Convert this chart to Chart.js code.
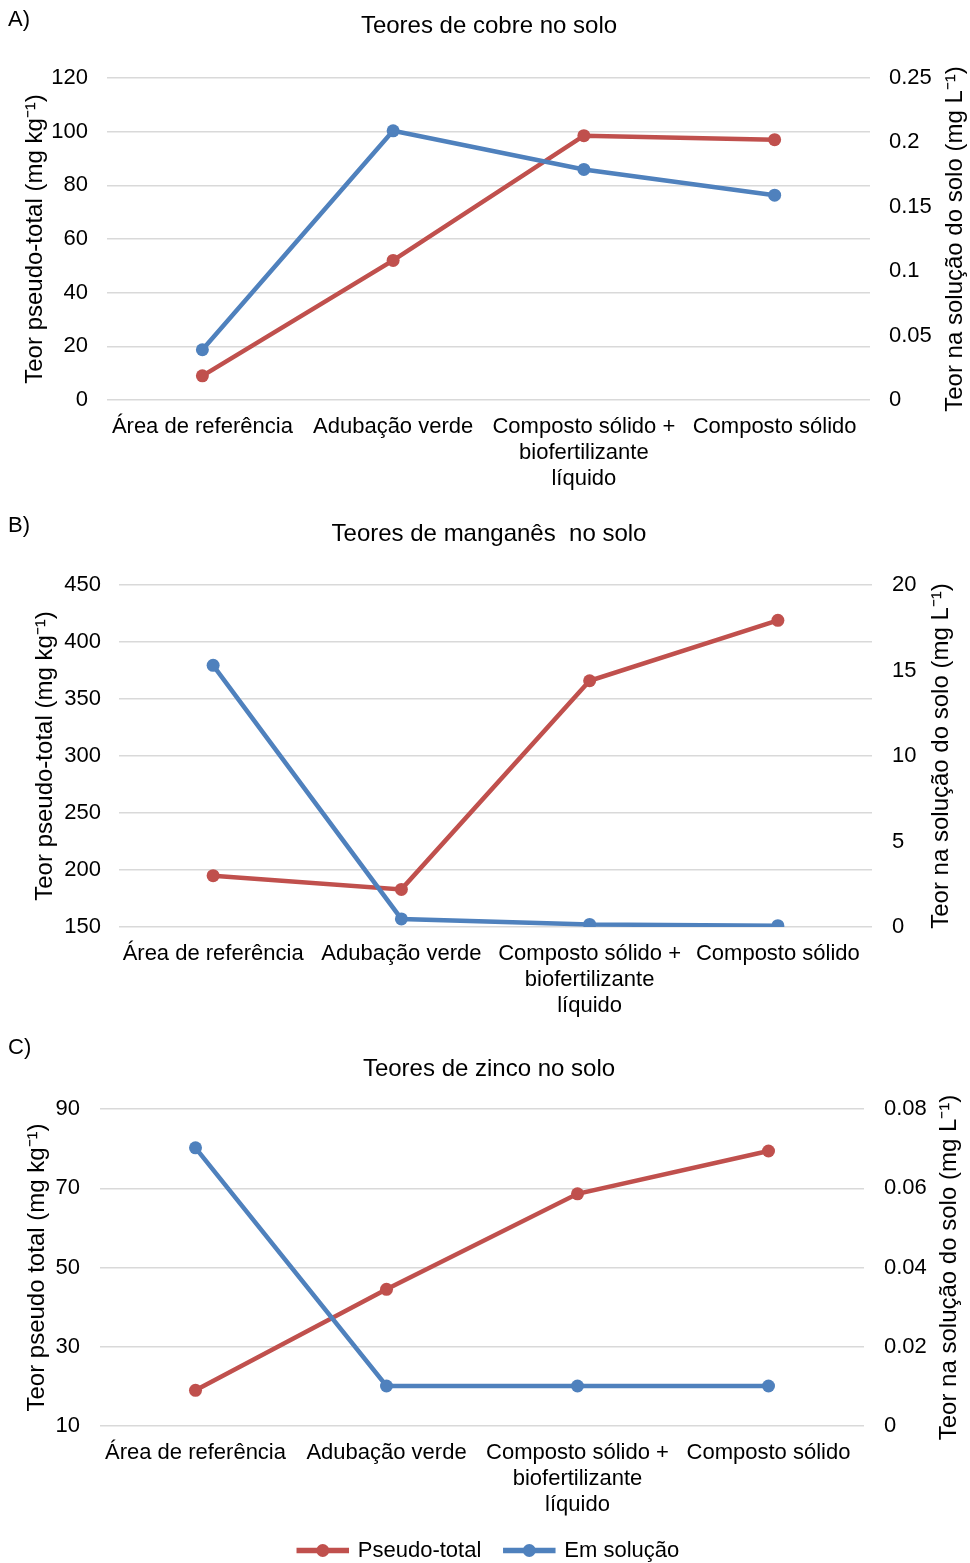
<!DOCTYPE html>
<html>
<head>
<meta charset="utf-8">
<script src="https://cdn.jsdelivr.net/npm/chart.js@4.4.1/dist/chart.umd.min.js"></script>
<style>
  body { margin: 0; background: #fff; font-family: "Liberation Sans", Arial, sans-serif; }
  #page { position: relative; width: 970px; height: 1563px; overflow: hidden; }
  .panel { position: absolute; left: 0; width: 970px; }
  .tag { position: absolute; left: 8px; font-size: 22px; color: #000; }
</style>
</head>
<body>
<div id="page">
  <div class="panel" style="top:0;height:500px"><canvas id="chartA" width="970" height="500"></canvas></div>
  <div class="panel" style="top:500px;height:530px"><canvas id="chartB" width="970" height="530"></canvas></div>
  <div class="panel" style="top:1030px;height:533px"><canvas id="chartC" width="970" height="533"></canvas></div>
  <div class="tag" style="top:6px">A)</div>
  <div class="tag" style="top:512px">B)</div>
  <div class="tag" style="top:1034px">C)</div>
</div>
<script>
// categories and series names
const categories = ['Área de referência', 'Adubação verde', ['Composto sólido +', 'biofertilizante', 'líquido'], 'Composto sólido'];
const seriesNames = ['Pseudo-total', 'Em solução'];

// A) cobre
const cobreTotal = [9, 52, 98.5, 97];
const cobreSolucao = [0.039, 0.209, 0.179, 0.159];
const cobreLeftTicks = [0, 20, 40, 60, 80, 100, 120];
const cobreRightTicks = [0, 0.05, 0.1, 0.15, 0.2, 0.25];

// B) manganês
const mnTotal = [195, 183, 366, 419];
const mnSolucao = [15.3, 0.47, 0.15, 0.08];
const mnLeftTicks = [150, 200, 250, 300, 350, 400, 450];
const mnRightTicks = [0, 5, 10, 15, 20];

// C) zinco
const znTotal = [19, 44.5, 68.6, 79.4];
const znSolucao = [0.0702, 0.0101, 0.0101, 0.0101];
const znLeftTicks = [10, 30, 50, 70, 90];
const znRightTicks = [0, 0.02, 0.04, 0.06, 0.08];

const RED = '#C0504D';
const BLUE = '#4F81BD';
const FONT = '"Liberation Sans", Arial, sans-serif';
Chart.defaults.font.family = FONT;
Chart.defaults.color = '#000';

// right axis title reads bottom-to-top like the left one
const rightTitle = {
    id: 'rightTitle',
    afterDraw(chart, args, opts) {
        if (!opts.text) return;
        const { ctx, chartArea } = chart;
        ctx.save();
        ctx.font = '24px ' + FONT;
        ctx.fillStyle = '#000';
        ctx.textAlign = 'center';
        ctx.textBaseline = 'middle';
        ctx.translate(chartArea.right + opts.offset, (chartArea.top + chartArea.bottom) / 2);
        ctx.rotate(-Math.PI / 2);
        ctx.fillText(opts.text, 0, 0);
        ctx.restore();
    }
};

// marker dot in the middle of each legend line
const legendDots = {
    id: 'legendDots',
    afterDraw(chart) {
        const lg = chart.legend;
        if (!lg || !lg.options.display || !lg.legendHitBoxes) return;
        const ctx = chart.ctx;
        lg.legendItems.forEach((item, i) => {
            const box = lg.legendHitBoxes[i];
            ctx.save();
            ctx.fillStyle = item.strokeStyle;
            ctx.beginPath();
            ctx.arc(box.left + lg.options.labels.boxWidth / 2, box.top + box.height / 2, 6.5, 0, Math.PI * 2);
            ctx.fill();
            ctx.restore();
        });
    }
};

function tickRange(ticks) {
    return { min: ticks[0], max: ticks[ticks.length - 1], stepSize: +(ticks[1] - ticks[0]).toFixed(6) };
}

const plainNumber = v => String(+v.toFixed(6));

function makeChart(id, cfg) {
    const L = tickRange(cfg.leftTicks);
    const R = tickRange(cfg.rightTicks);
    const padLeft = 8;
    return new Chart(document.getElementById(id), {
        type: 'line',
        data: {
            labels: categories,
            datasets: [
                { label: seriesNames[0], data: cfg.total, yAxisID: 'y', order: 1,
                  borderColor: RED, backgroundColor: RED, borderWidth: 4.5,
                  pointRadius: 6.5, pointBackgroundColor: RED, pointBorderWidth: 0 },
                { label: seriesNames[1], data: cfg.solucao, yAxisID: 'y1', order: 0,
                  borderColor: BLUE, backgroundColor: BLUE, borderWidth: 4.5,
                  pointRadius: 6.5, pointBackgroundColor: BLUE, pointBorderWidth: 0 }
            ]
        },
        options: {
            responsive: false,
            animation: false,
            events: [],
            layout: { padding: { left: padLeft, right: 0, top: 0, bottom: cfg.padBottom || 0 } },
            plugins: {
                title: { display: true, text: cfg.title, font: { size: 24, weight: 'normal' },
                         color: '#000', padding: { top: cfg.titleTop, bottom: cfg.titleBottom } },
                legend: {
                    display: !!cfg.legend,
                    position: 'bottom',
                    labels: { boxWidth: 48, boxHeight: 1, padding: 24, font: { size: 22 }, color: '#000',
                              sort: (a, b) => a.datasetIndex - b.datasetIndex }
                },
                tooltip: { enabled: false },
                rightTitle: { text: cfg.rightTitle, offset: cfg.rightTitleOffset }
            },
            scales: {
                x: {
                    offset: true,
                    grid: { display: false, drawTicks: false, offset: true },
                    border: { display: false },
                    ticks: { font: { size: 22, lineHeight: 1.18 }, color: '#000', padding: 14,
                             maxRotation: 0, autoSkip: false },
                    afterFit: s => { s.height = cfg.xHeight; }
                },
                y: {
                    position: 'left', min: L.min, max: L.max,
                    ticks: { stepSize: L.stepSize, font: { size: 22 }, color: '#000', padding: cfg.leftPad,
                             callback: plainNumber },
                    grid: { color: '#D9D9D9', lineWidth: 1.5, drawTicks: false },
                    border: { display: false },
                    title: { display: true, text: cfg.leftTitle, font: { size: 24 }, color: '#000',
                             padding: { top: cfg.leftTitleTop - padLeft, bottom: 0 } },
                    afterFit: s => { s.width = cfg.left - padLeft; }
                },
                y1: {
                    position: 'right', min: R.min, max: R.max,
                    ticks: { stepSize: R.stepSize, font: { size: 22 }, color: '#000', padding: cfg.rightPad,
                             callback: plainNumber },
                    grid: { display: false, drawTicks: false },
                    border: { display: false },
                    afterFit: s => { s.width = cfg.right; }
                }
            }
        },
        plugins: [rightTitle, legendDots]
    });
}

makeChart('chartA', {
    title: 'Teores de cobre no solo',
    leftTitle: 'Teor pseudo-total (mg kg\u207B\u00B9)',
    rightTitle: 'Teor na solução do solo (mg L\u207B\u00B9)',
    total: cobreTotal, solucao: cobreSolucao,
    leftTicks: cobreLeftTicks, rightTicks: cobreRightTicks,
    titleTop: 12.4, titleBottom: 36.8, xHeight: 100,
    left: 107, right: 100, leftPad: 19, rightPad: 19,
    leftTitleTop: 21, rightTitleOffset: 85
});

makeChart('chartB', {
    title: 'Teores de manganês  no solo',
    leftTitle: 'Teor pseudo-total (mg kg\u207B\u00B9)',
    rightTitle: 'Teor na solução do solo (mg L\u207B\u00B9)',
    total: mnTotal, solucao: mnSolucao,
    leftTicks: mnLeftTicks, rightTicks: mnRightTicks,
    titleTop: 20.4, titleBottom: 35.8, xHeight: 103,
    left: 119, right: 98, leftPad: 18, rightPad: 20,
    leftTitleTop: 31, rightTitleOffset: 69
});

makeChart('chartC', {
    title: 'Teores de zinco no solo',
    leftTitle: 'Teor pseudo total (mg kg\u207B\u00B9)',
    rightTitle: 'Teor na solução do solo (mg L\u207B\u00B9)',
    total: znTotal, solucao: znSolucao,
    leftTicks: znLeftTicks, rightTicks: znRightTicks,
    titleTop: 25.4, titleBottom: 24.8, xHeight: 89.5,
    left: 100, right: 106, leftPad: 20, rightPad: 20,
    leftTitleTop: 23, rightTitleOffset: 85,
    legend: true, padBottom: -8.5
});
</script>
</body>
</html>
